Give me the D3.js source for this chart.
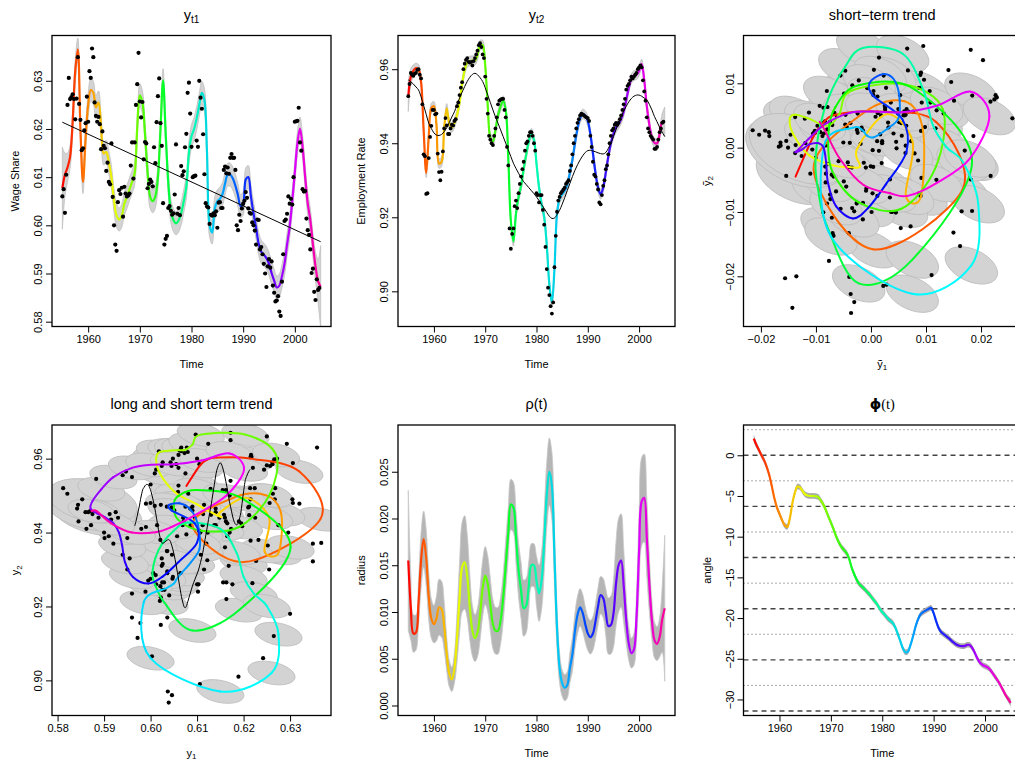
<!DOCTYPE html>
<html>
<head>
<meta charset="utf-8">
<script src="https://cdn.jsdelivr.net/npm/d3@7"></script>
<style>
  body { margin: 0; background: #fff; }
  svg { font-family: "Liberation Sans", Arial, Helvetica, sans-serif; }
</style>
</head>
<body>
<div id="chart"></div>
<script>
// ---- data ----
// smoothed series on a half-year grid starting 1955.0
var gridStart = 1955, gridStep = 0.5;

var y1Smooth = [
  0.6077, 0.6105, 0.6120, 0.6142, 0.6215, 0.6320, 0.6365, 0.6200, 0.6090, 0.6180,
  0.6250, 0.6281, 0.6275, 0.6245, 0.6255, 0.6205, 0.6149, 0.6152, 0.6130, 0.6100,
  0.6052, 0.6020, 0.6012, 0.6020, 0.6045, 0.6059, 0.6075, 0.6090, 0.6108, 0.6204,
  0.6270, 0.6255, 0.6190, 0.6110, 0.6059, 0.6050, 0.6060, 0.6100, 0.6200, 0.6301,
  0.6190, 0.6090, 0.6030, 0.6011, 0.6004, 0.6010, 0.6025, 0.6050, 0.6080, 0.6150,
  0.6185, 0.6200, 0.6222, 0.6250, 0.6275, 0.6260, 0.6150, 0.6000, 0.5985, 0.6035,
  0.6050, 0.6055, 0.6065, 0.6087, 0.6105, 0.6105, 0.6097, 0.6082, 0.6062, 0.6040,
  0.6045, 0.6095, 0.6100, 0.6060, 0.6025, 0.5995, 0.5962, 0.5945, 0.5939, 0.5932,
  0.5920, 0.5901, 0.5885, 0.5871, 0.5875, 0.5894, 0.5920, 0.5960, 0.5997, 0.6050,
  0.6110, 0.6170, 0.6201, 0.6163, 0.6100, 0.6045, 0.6011, 0.5960, 0.5915, 0.5884,
  0.5873];

var y2Smooth = [
  0.9526, 0.9580, 0.9596, 0.9603, 0.9600, 0.9565, 0.9436, 0.9320, 0.9420, 0.9495,
  0.9500, 0.9450, 0.9345, 0.9350, 0.9440, 0.9494, 0.9454, 0.9442, 0.9455, 0.9476,
  0.9510, 0.9560, 0.9598, 0.9618, 0.9622, 0.9623, 0.9624, 0.9638, 0.9665, 0.9665,
  0.9610, 0.9500, 0.9415, 0.9405, 0.9435, 0.9476, 0.9499, 0.9515, 0.9490, 0.9360,
  0.9190, 0.9135, 0.9210, 0.9255, 0.9285, 0.9330, 0.9370, 0.9405, 0.9427, 0.9410,
  0.9345, 0.9280, 0.9235, 0.9201, 0.9125, 0.9020, 0.8970, 0.9060, 0.9210, 0.9250,
  0.9262, 0.9272, 0.9288, 0.9320, 0.9355, 0.9400, 0.9440, 0.9467, 0.9479, 0.9475,
  0.9460, 0.9425, 0.9373, 0.9320, 0.9280, 0.9262, 0.9280, 0.9320, 0.9364, 0.9400,
  0.9425, 0.9442, 0.9452, 0.9465, 0.9485, 0.9517, 0.9550, 0.9575, 0.9583, 0.9585,
  0.9595, 0.9614, 0.9571, 0.9500, 0.9450, 0.9415, 0.9401, 0.9400, 0.9425, 0.9458,
  0.9458];

var y2Trend = [
  0.9571, 0.9566, 0.9560, 0.9552, 0.9544, 0.9525, 0.9502, 0.9478, 0.9454, 0.9440,
  0.9428, 0.9422, 0.9421, 0.9424, 0.9431, 0.9442, 0.9456, 0.9471, 0.9485, 0.9504,
  0.9522, 0.9538, 0.9553, 0.9567, 0.9578, 0.9586, 0.9589, 0.9585, 0.9577, 0.9567,
  0.9550, 0.9530, 0.9510, 0.9490, 0.9471, 0.9454, 0.9436, 0.9418, 0.9400, 0.9382,
  0.9364, 0.9346, 0.9332, 0.9319, 0.9307, 0.9296, 0.9288, 0.9280, 0.9272, 0.9264,
  0.9255, 0.9245, 0.9234, 0.9224, 0.9213, 0.9203, 0.9197, 0.9198, 0.9207, 0.9219,
  0.9235, 0.9253, 0.9272, 0.9291, 0.9310, 0.9327, 0.9342, 0.9355, 0.9366, 0.9375,
  0.9380, 0.9381, 0.9379, 0.9377, 0.9374, 0.9372, 0.9371, 0.9375, 0.9386, 0.9400,
  0.9418, 0.9437, 0.9455, 0.9472, 0.9487, 0.9500, 0.9512, 0.9521, 0.9527, 0.9530,
  0.9530, 0.9527, 0.9522, 0.9517, 0.9505, 0.9490, 0.9472, 0.9458, 0.9443, 0.9430,
  0.9418];

// straight long-term trend of the wage share, values at 1955 and 2005
var y1TrendEnds = [0.6214, 0.5966];

var rho = [
  0.0155, 0.0105, 0.0077, 0.0078, 0.0110, 0.0155, 0.0178, 0.0158, 0.0116, 0.0093,
  0.0087, 0.0093, 0.0105, 0.0103, 0.0085, 0.0055, 0.0034, 0.0028, 0.0040, 0.0072,
  0.0115, 0.0148, 0.0153, 0.0138, 0.0105, 0.0080, 0.0072, 0.0078, 0.0098, 0.0125,
  0.0139, 0.0130, 0.0108, 0.0087, 0.0080, 0.0080, 0.0091, 0.0115, 0.0150, 0.0185,
  0.0215, 0.0212, 0.0180, 0.0145, 0.0123, 0.0104, 0.0107, 0.0128, 0.0150, 0.0150,
  0.0133, 0.0120, 0.0134, 0.0175, 0.0225, 0.0250, 0.0235, 0.0160, 0.0083, 0.0040,
  0.0024, 0.0019, 0.0022, 0.0040, 0.0055, 0.0080, 0.0097, 0.0105, 0.0099, 0.0087,
  0.0077, 0.0073, 0.0077, 0.0090, 0.0106, 0.0118, 0.0115, 0.0100, 0.0085, 0.0086,
  0.0098, 0.0130, 0.0150, 0.0155, 0.0128, 0.0091, 0.0066, 0.0056, 0.0060, 0.0095,
  0.0165, 0.0218, 0.0222, 0.0180, 0.0130, 0.0091, 0.0070, 0.0066, 0.0073, 0.0092,
  0.0104];

var rhoCi = [
  0.0075, 0.0035, 0.0020, 0.0019, 0.0024, 0.0030, 0.0030, 0.0030, 0.0025, 0.0021,
  0.0020, 0.0024, 0.0030, 0.0030, 0.0026, 0.0018, 0.0014, 0.0013, 0.0016, 0.0026,
  0.0038, 0.0048, 0.0050, 0.0045, 0.0035, 0.0027, 0.0025, 0.0026, 0.0028, 0.0030,
  0.0031, 0.0030, 0.0028, 0.0026, 0.0025, 0.0025, 0.0025, 0.0026, 0.0027, 0.0027,
  0.0027, 0.0027, 0.0028, 0.0029, 0.0030, 0.0030, 0.0029, 0.0026, 0.0023, 0.0023,
  0.0027, 0.0030, 0.0031, 0.0033, 0.0035, 0.0036, 0.0036, 0.0030, 0.0022, 0.0016,
  0.0014, 0.0014, 0.0014, 0.0016, 0.0018, 0.0019, 0.0020, 0.0020, 0.0020, 0.0019,
  0.0018, 0.0018, 0.0018, 0.0019, 0.0020, 0.0020, 0.0021, 0.0025, 0.0030, 0.0031,
  0.0036, 0.0045, 0.0050, 0.0050, 0.0040, 0.0025, 0.0018, 0.0016, 0.0017, 0.0025,
  0.0040, 0.0047, 0.0047, 0.0042, 0.0030, 0.0021, 0.0019, 0.0018, 0.0021, 0.0035,
  0.0078];

var phi = [
  2.05, 1.30, 0.65, 0.00, -0.60, -1.40, -2.40, -3.77, -5.25, -6.40,
  -7.20, -7.95, -8.60, -8.80, -7.80, -5.95, -4.59, -3.85, -3.95, -4.40,
  -4.80, -4.95, -5.00, -5.00, -5.03, -5.12, -5.50, -6.00, -6.70, -7.50,
  -8.25, -9.05, -9.92, -10.65, -11.20, -11.60, -11.97, -12.60, -13.70, -14.55,
  -15.25, -15.80, -16.10, -16.40, -16.75, -17.10, -17.50, -17.90, -18.30, -18.85,
  -19.25, -19.60, -20.00, -20.30, -20.57, -21.10, -21.90, -22.80, -23.70, -24.20,
  -24.10, -23.30, -22.21, -21.00, -20.10, -19.50, -19.25, -19.05, -18.88, -18.75,
  -19.40, -20.40, -21.25, -21.75, -22.00, -22.25, -22.50, -22.80, -23.05, -23.27,
  -23.40, -23.44, -23.44, -23.30, -23.30, -23.65, -24.25, -24.95, -25.45, -25.75,
  -25.90, -26.05, -26.35, -26.80, -27.25, -27.70, -28.25, -28.85, -29.45, -29.95,
  -30.41];

// quarterly observations 1955Q1 .. 2004Q4
var y1Obs = [
  0.6060, 0.6075, 0.6026, 0.6105,  0.6250, 0.6306, 0.6262, 0.6266,
  0.6272, 0.6262, 0.6220, 0.6263,  0.6349, 0.6252, 0.6219, 0.6156,
  0.6160, 0.6197, 0.6212, 0.6267,  0.6215, 0.6320, 0.6306, 0.6367,
  0.6349, 0.6255, 0.6227, 0.6215,  0.6225, 0.6210, 0.6158, 0.6195,
  0.6165, 0.6160, 0.6113, 0.6130,  0.6090, 0.6085, 0.6170, 0.6059,
  0.6000, 0.5960, 0.5947, 0.6048,  0.6073, 0.6065, 0.6078, 0.6018,
  0.6080, 0.6066, 0.6060, 0.6062,  0.6066, 0.6124, 0.6172, 0.6097,
  0.6172, 0.6250, 0.6293, 0.6358,  0.6257, 0.6224, 0.6256, 0.6137,
  0.6173, 0.6170, 0.6077, 0.6086,  0.6095, 0.6090, 0.6081, 0.6162,
  0.6129, 0.6214, 0.6268, 0.6305,  0.6212, 0.6165, 0.6046, 0.5960,
  0.5972, 0.5978, 0.6036, 0.6040,  0.6030, 0.6022, 0.6025, 0.6064,
  0.6168, 0.6024, 0.6036, 0.6021,  0.6123, 0.6104, 0.6112, 0.6162,
  0.6190, 0.6275, 0.6296, 0.6232,  0.6163, 0.6100, 0.6102, 0.6103,
  0.6176, 0.6163, 0.6300, 0.6265,  0.6242, 0.6189, 0.6106, 0.6046,
  0.6039, 0.6037, 0.6003, 0.6022,  0.6020, 0.6025, 0.6021, 0.6029,
  0.5995, 0.6047, 0.6048, 0.6036,  0.6036, 0.6115, 0.6122, 0.6108,
  0.6120, 0.6107, 0.6140, 0.6148,  0.6140, 0.6140, 0.6115, 0.6000,
  0.5990, 0.6022, 0.6009, 0.6035,  0.6045, 0.6051, 0.6069, 0.6057,
  0.6035, 0.6026, 0.6024, 0.6006,  0.6000, 0.5989, 0.5960, 0.6012,
  0.6011, 0.5950, 0.5955, 0.5940,  0.5920, 0.5900, 0.5872, 0.5915,
  0.5930, 0.5912, 0.5925, 0.5875,  0.5860, 0.5842, 0.5844, 0.5853,
  0.5821, 0.5812, 0.5883, 0.5940,  0.6009, 0.6012, 0.6024, 0.6060,
  0.6045, 0.6055, 0.6043, 0.6100,  0.6215, 0.6216, 0.6217, 0.6244,
  0.6172, 0.6155, 0.6075, 0.6070,  0.6071, 0.6014, 0.5990, 0.5980,
  0.5950, 0.5901, 0.5910, 0.5862,  0.5845, 0.5888, 0.5866, 0.5870];

var y2Obs = [
  0.9527, 0.9560, 0.9590, 0.9585,  0.9582, 0.9588, 0.9590, 0.9598,
  0.9600, 0.9585, 0.9575, 0.9505,  0.9370, 0.9365, 0.9263, 0.9265,
  0.9360, 0.9417, 0.9447, 0.9490,  0.9490, 0.9478, 0.9480, 0.9372,
  0.9322, 0.9300, 0.9323, 0.9378,  0.9440, 0.9468, 0.9448, 0.9425,
  0.9425, 0.9440, 0.9450, 0.9448,  0.9460, 0.9465, 0.9500, 0.9510,
  0.9530, 0.9550, 0.9565, 0.9600,  0.9615, 0.9625, 0.9630, 0.9620,
  0.9618, 0.9620, 0.9610, 0.9622,  0.9630, 0.9640, 0.9650, 0.9665,
  0.9670, 0.9660, 0.9640, 0.9630,  0.9580, 0.9520, 0.9480, 0.9420,
  0.9410, 0.9400, 0.9395, 0.9420,  0.9440, 0.9470, 0.9505, 0.9515,
  0.9518, 0.9520, 0.9520, 0.9490,  0.9470, 0.9390, 0.9340, 0.9170,
  0.9115, 0.9155, 0.9170, 0.9230,  0.9245, 0.9225, 0.9265, 0.9290,
  0.9310, 0.9330, 0.9350, 0.9380,  0.9400, 0.9405, 0.9420, 0.9430,
  0.9430, 0.9420, 0.9400, 0.9380,  0.9265, 0.9260, 0.9240, 0.9260,
  0.9260, 0.9220, 0.9180, 0.9120,  0.9060, 0.9010, 0.8990, 0.8960,
  0.8940, 0.8970, 0.9065, 0.9150,  0.9215, 0.9245, 0.9255, 0.9265,
  0.9270, 0.9275, 0.9280, 0.9290,  0.9295, 0.9300, 0.9325, 0.9340,
  0.9370, 0.9400, 0.9420, 0.9440,  0.9455, 0.9465, 0.9475, 0.9480,
  0.9478, 0.9475, 0.9472, 0.9470,  0.9468, 0.9460, 0.9420, 0.9390,
  0.9350, 0.9315, 0.9310, 0.9290,  0.9275, 0.9240, 0.9235, 0.9260,
  0.9285, 0.9300, 0.9330, 0.9340,  0.9370, 0.9400, 0.9420, 0.9435,
  0.9440, 0.9450, 0.9455, 0.9450,  0.9455, 0.9465, 0.9475, 0.9490,
  0.9505, 0.9520, 0.9545, 0.9555,  0.9560, 0.9570, 0.9580, 0.9575,
  0.9580, 0.9585, 0.9590, 0.9600,  0.9605, 0.9610, 0.9605, 0.9570,
  0.9540, 0.9515, 0.9470, 0.9440,  0.9430, 0.9420, 0.9415, 0.9410,
  0.9385, 0.9385, 0.9390, 0.9410,  0.9430, 0.9440, 0.9455, 0.9458];

// reference lines of the angle plot: multiples of 2*pi (dashed) and odd multiples of pi (dotted)
var phiDashed = [0, -6.283, -12.566, -18.850, -25.133, -31.416];
var phiDotted = [3.142, -3.142, -9.425, -15.708, -21.991, -28.274];

var yearTicks = [1960, 1970, 1980, 1990, 2000];

// ---- set up ----
var tGrid = y1Smooth.map(function (d, i) { return gridStart + i * gridStep; });
var tObs = y1Obs.map(function (d, i) { return 1955 + i * 0.25; });

var svg = d3.select("#chart").append("svg")
  .attr("width", 1015).attr("height", 762);
var defs = svg.append("defs");

var cols = [[52, 331], [398, 675], [743.5, 1021]];
var rows = [[35.5, 326.5], [425, 715.5]];

// rainbow from red (1955) to pink-magenta (2005)
function hue(t) { return d3.hsl(325 * (t - 1955) / 50, 1, 0.5).formatHex(); }

var y1TrendAt = d3.scaleLinear().domain([1955, 2005]).range(y1TrendEnds);
var y2TrendAt = d3.scaleLinear().domain(tGrid).range(y2Trend);

var nPanel = 0;
function panel(c, r, xDom, yDom) {
  var x0 = cols[c][0], x1 = cols[c][1], y0 = rows[r][0], y1 = rows[r][1];
  var id = "clip" + (nPanel++);
  defs.append("clipPath").attr("id", id).append("rect")
    .attr("x", x0).attr("y", y0).attr("width", x1 - x0).attr("height", y1 - y0);
  var x = d3.scaleLinear().domain(xDom).range([x0, x1]);
  var y = d3.scaleLinear().domain(yDom).range([y1, y0]);
  var g = svg.append("g").attr("clip-path", "url(#" + id + ")");
  return { x: x, y: y, g: g, x0: x0, x1: x1, y0: y0, y1: y1, id: id };
}

function frame(p, xt, xf, yt, yf) {
  var ax = svg.append("g").attr("transform", "translate(0," + p.y1 + ")")
    .call(d3.axisBottom(p.x).tickValues(xt).tickFormat(xf).tickSize(6).tickPadding(3));
  var ay = svg.append("g").attr("transform", "translate(" + p.x0 + ",0)")
    .call(d3.axisLeft(p.y).tickValues(yt).tickFormat(yf).tickSize(6));
  [ax, ay].forEach(function (a) {
    a.select(".domain").remove();
    a.selectAll("text").attr("font-size", 11).attr("fill", "#000")
      .attr("font-family", "Liberation Sans, Arial, sans-serif");
    a.selectAll("line").attr("stroke", "#000");
  });
  ay.selectAll("text").attr("x", 0).attr("dy", 0).attr("y", -10)
    .attr("text-anchor", "middle").attr("transform", "rotate(-90)");
  svg.append("rect").attr("x", p.x0).attr("y", p.y0)
    .attr("width", p.x1 - p.x0).attr("height", p.y1 - p.y0)
    .attr("fill", "none").attr("stroke", "#000").attr("stroke-width", 1.3);
}

function labels(p, title, xlab, ylab) {
  var cx = (p.x0 + p.x1) / 2;
  var tt = svg.append("text").attr("x", cx).attr("y", p.y0 - 16)
    .attr("text-anchor", "middle").attr("font-size", 14.5);
  title(tt);
  var xl = svg.append("text").attr("x", cx).attr("y", p.y1 + 41)
    .attr("text-anchor", "middle").attr("font-size", 11);
  xlab(xl);
  var my = (p.y0 + p.y1) / 2;
  var yl = svg.append("text").attr("transform", "translate(" + (p.x0 - 33) + "," + my + ") rotate(-90)")
    .attr("text-anchor", "middle").attr("font-size", 11);
  ylab(yl);
}
function plain(s) { return function (t) { t.text(s); }; }
function sub(base, s, size) {
  return function (t) {
    t.append("tspan").text(base);
    t.append("tspan").attr("font-size", size).attr("dy", size * 0.35).text(s);
  };
}

function gradient(p) {
  var id = "rb" + p.id;
  var lg = defs.append("linearGradient").attr("id", id)
    .attr("gradientUnits", "userSpaceOnUse")
    .attr("x1", p.x(1955)).attr("x2", p.x(2005)).attr("y1", 0).attr("y2", 0);
  d3.range(0, 11).forEach(function (k) {
    lg.append("stop").attr("offset", k / 10).attr("stop-color", hue(1955 + k * 5));
  });
  return "url(#" + id + ")";
}

function band(p, vals, halfAt, fill, stroke) {
  var area = d3.area().curve(d3.curveCatmullRom)
    .x(function (d, i) { return p.x(tGrid[i]); })
    .y0(function (d, i) { return p.y(d - halfAt(i)); })
    .y1(function (d, i) { return p.y(d + halfAt(i)); });
  p.g.append("path").attr("d", area(vals)).attr("fill", fill)
    .attr("stroke", stroke || "none").attr("stroke-width", 0.8);
}
function endWide(mid, ends) {
  return function (i) {
    var n = tGrid.length;
    if (i < ends.length) return ends[i];
    if (n - 1 - i < ends.length) return ends[n - 1 - i];
    return mid;
  };
}
function rainbowLine(p, vals, w) {
  var line = d3.line().curve(d3.curveCatmullRom)
    .x(function (d, i) { return p.x(tGrid[i]); })
    .y(function (d) { return p.y(d); });
  p.g.append("path").attr("d", line(vals)).attr("fill", "none")
    .attr("stroke", gradient(p)).attr("stroke-width", w || 2.2);
}
function dots(p, xs, ys, r) {
  p.g.selectAll(null).data(xs).enter().append("circle")
    .attr("cx", function (d) { return p.x(d); })
    .attr("cy", function (d, i) { return p.y(ys[i]); })
    .attr("r", r).attr("fill", "#000");
}
// parametric path coloured by time, one Catmull-Rom piece per grid step
function rainbowPath(p, xs, ys, w) {
  var P = xs.map(function (d, i) { return [p.x(d), p.y(ys[i])]; });
  for (var i = 0; i < P.length - 1; i++) {
    var p0 = P[Math.max(i - 1, 0)], p1 = P[i], p2 = P[i + 1], p3 = P[Math.min(i + 2, P.length - 1)];
    var c1 = [p1[0] + (p2[0] - p0[0]) / 6, p1[1] + (p2[1] - p0[1]) / 6];
    var c2 = [p2[0] - (p3[0] - p1[0]) / 6, p2[1] - (p3[1] - p1[1]) / 6];
    p.g.append("path")
      .attr("d", "M" + p1 + "C" + c1 + " " + c2 + " " + p2)
      .attr("fill", "none").attr("stroke", hue((tGrid[i] + tGrid[i + 1]) / 2))
      .attr("stroke-width", w).attr("stroke-linecap", "round");
  }
}
var wideYears = [1996, 1996.5, 1997];
function ellipses(p, xs, ys, rx, ry, rot) {
  xs.forEach(function (d, i) {
    var k = wideYears.indexOf(tGrid[i]) >= 0 ? 1.9 : (i === 0 ? 1.5 : 1);
    p.g.append("ellipse")
      .attr("transform", "translate(" + p.x(d) + "," + p.y(ys[i]) + ") rotate(" + rot + ")")
      .attr("rx", rx * k).attr("ry", ry * k)
      .attr("fill", "#d3d3d3").attr("stroke", "#bdbdbd").attr("stroke-width", 0.8);
  });
}

var fmtYear = d3.format("d");

// ---- panel 1: wage share ----
var p1 = panel(0, 0, [1953, 2007], [0.5790, 0.6394]);
band(p1, y1Smooth, endWide(0.0024, [0.0085, 0.0045, 0.003]), "#d3d3d3", "#bfbfbf");
rainbowLine(p1, y1Smooth);
p1.g.append("line")
  .attr("x1", p1.x(1955)).attr("y1", p1.y(y1TrendEnds[0]))
  .attr("x2", p1.x(2005)).attr("y2", p1.y(y1TrendEnds[1]))
  .attr("stroke", "#000").attr("stroke-width", 1);
dots(p1, tObs, y1Obs, 2.1);
frame(p1, yearTicks, fmtYear, [0.58, 0.59, 0.60, 0.61, 0.62, 0.63], d3.format(".2f"));
labels(p1, sub("y", "t1", 10), plain("Time"), plain("Wage Share"));

// ---- panel 2: employment rate ----
var p2 = panel(1, 0, [1953, 2007], [0.8905, 0.9691]);
band(p2, y2Smooth, endWide(0.0013, [0.004, 0.0022, 0.0016]), "#d3d3d3", "#bfbfbf");
rainbowLine(p2, y2Smooth);
p2.g.append("path")
  .attr("d", d3.line().curve(d3.curveCatmullRom)
    .x(function (d, i) { return p2.x(tGrid[i]); })
    .y(function (d) { return p2.y(d); })(y2Trend))
  .attr("fill", "none").attr("stroke", "#000").attr("stroke-width", 1);
dots(p2, tObs, y2Obs, 1.9);
frame(p2, yearTicks, fmtYear, [0.90, 0.92, 0.94, 0.96], d3.format(".2f"));
labels(p2, sub("y", "t2", 10), plain("Time"), plain("Employment Rate"));

// ---- panel 3: short-term trend (deviation from long-term trend) ----
var s1 = y1Smooth.map(function (d, i) { return d - y1TrendAt(tGrid[i]); });
var s2 = y2Smooth.map(function (d, i) { return d - y2Trend[i]; });
var o1 = y1Obs.map(function (d, i) { return d - y1TrendAt(tObs[i]); });
var o2 = y2Obs.map(function (d, i) { return d - y2TrendAt(tObs[i]); });
var p3 = panel(2, 0, [-0.02316, 0.02726], [-0.0278, 0.01743]);
ellipses(p3, s1, s2, 28, 16, 25);
dots(p3, o1, o2, 2.1);
rainbowPath(p3, s1, s2, 2);
frame(p3, [-0.02, -0.01, 0, 0.01, 0.02], d3.format(".2f"), [-0.02, -0.01, 0, 0.01], d3.format(".2f"));
labels(p3, plain("short\u2212term trend"), sub("\u1ef9", "1", 8), sub("\u1ef9", "2", 8));

// ---- panel 4: long and short term trend ----
var p4 = panel(0, 1, [0.5788, 0.6388], [0.8905, 0.9691]);
ellipses(p4, y1Smooth, y2Smooth, 24, 11, 12);
dots(p4, y1Obs, y2Obs, 2.1);
rainbowPath(p4, y1Smooth, y2Smooth, 2);
p4.g.append("path")
  .attr("d", d3.line().curve(d3.curveCatmullRom)
    .x(function (d, i) { return p4.x(y1TrendAt(tGrid[i])); })
    .y(function (d) { return p4.y(d); })(y2Trend))
  .attr("fill", "none").attr("stroke", "#000").attr("stroke-width", 1);
frame(p4, [0.58, 0.59, 0.60, 0.61, 0.62, 0.63], d3.format(".2f"), [0.90, 0.92, 0.94, 0.96], d3.format(".2f"));
labels(p4, plain("long and short term trend"), sub("y", "1", 8), sub("y", "2", 8));

// ---- panel 5: radius ----
var p5 = panel(1, 1, [1953, 2007], [-0.00107, 0.0300]);
band(p5, rho, function (i) { return rhoCi[i]; }, "#b5b5b5", "#c8c8c8");
rainbowLine(p5, rho);
frame(p5, yearTicks, fmtYear, [0, 0.005, 0.01, 0.015, 0.02, 0.025], d3.format(".3f"));
labels(p5, plain("\u03c1(t)"), plain("Time"), plain("radius"));

// ---- panel 6: angle ----
var p6 = panel(2, 1, [1953, 2007], [-31.97, 3.72]);
phiDotted.forEach(function (v) {
  p6.g.append("line").attr("x1", p6.x0).attr("x2", p6.x1)
    .attr("y1", p6.y(v)).attr("y2", p6.y(v))
    .attr("stroke", "#555").attr("stroke-width", 1).attr("stroke-dasharray", "1,3");
});
phiDashed.forEach(function (v) {
  p6.g.append("line").attr("x1", p6.x0).attr("x2", p6.x1)
    .attr("y1", p6.y(v)).attr("y2", p6.y(v))
    .attr("stroke", "#444").attr("stroke-width", 1.4).attr("stroke-dasharray", "5,4");
});
band(p6, phi, endWide(0.35, [0.5, 0.4]), "#aaaaaa", "none");
rainbowLine(p6, phi, 2.2);
frame(p6, yearTicks, fmtYear, [0, -5, -10, -15, -20, -25, -30], d3.format("d"));
labels(p6, function (t) { t.attr("font-family", "DejaVu Sans, sans-serif").attr("font-weight", "bold").text("\u03d5"); t.append("tspan").attr("font-weight", "normal").attr("font-family", "Liberation Serif, serif").text("(t)"); },
  plain("Time"), plain("angle"));
</script>
</body>
</html>
